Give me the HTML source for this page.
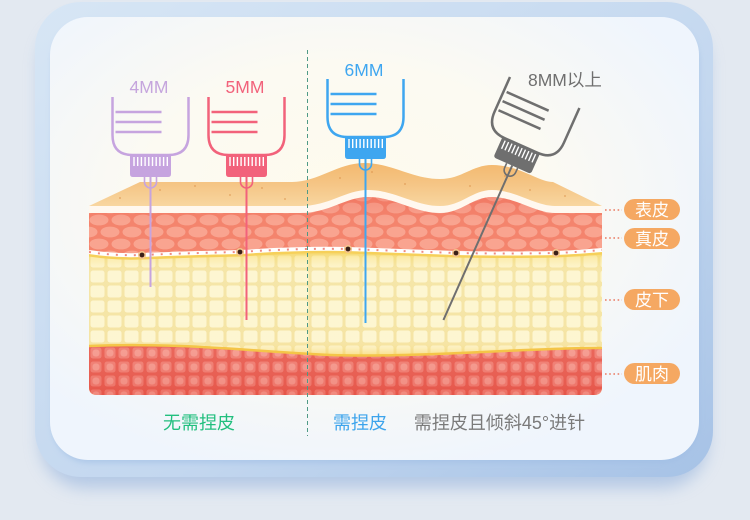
<!DOCTYPE html>
<html><head><meta charset="utf-8">
<style>
html,body{margin:0;padding:0;background:#e3e9f1;width:750px;height:520px;overflow:hidden;}
svg{display:block}
text{font-family:"Liberation Sans","Noto Sans CJK SC",sans-serif;}
</style></head><body>
<svg width="750" height="520" viewBox="0 0 750 520" xmlns="http://www.w3.org/2000/svg">
<defs>
 <linearGradient id="frame" x1="0" y1="0" x2="1" y2="1">
  <stop offset="0" stop-color="#d7e6f5"/>
  <stop offset="0.6" stop-color="#c3d7ef"/>
  <stop offset="1" stop-color="#a6c2e6"/>
 </linearGradient>
 <radialGradient id="card" cx="0.45" cy="0.42" r="0.62">
  <stop offset="0" stop-color="#fefbed"/>
  <stop offset="0.5" stop-color="#fcfaf2"/>
  <stop offset="1" stop-color="#eff5fd"/>
 </radialGradient>
 <filter id="blur8" x="-10%" y="-10%" width="120%" height="130%"><feGaussianBlur stdDeviation="8"/></filter>
 <filter id="blur3" x="-10%" y="-10%" width="120%" height="130%"><feGaussianBlur stdDeviation="3"/></filter>
 <linearGradient id="epi" gradientUnits="userSpaceOnUse" x1="0" y1="162" x2="0" y2="206">
  <stop offset="0" stop-color="#f3b86e"/>
  <stop offset="0.5" stop-color="#f5c585"/>
  <stop offset="1" stop-color="#f8d6a0"/>
 </linearGradient>
 <pattern id="cells" width="22" height="24" patternUnits="userSpaceOnUse" x="0" y="214">
  <rect width="22" height="24" fill="#f4846d"/>
  <ellipse cx="11" cy="6" rx="9.5" ry="5.4" fill="#f9a490"/>
  <ellipse cx="0" cy="18" rx="9.5" ry="5.4" fill="#f9a490"/>
  <ellipse cx="22" cy="18" rx="9.5" ry="5.4" fill="#f9a490"/>
 </pattern>
 <pattern id="mesh" width="17" height="15" patternUnits="userSpaceOnUse" x="89" y="254">
  <rect width="17" height="15" fill="#f3e19b"/>
  <rect x="1.5" y="1.5" width="14" height="12" rx="2.5" fill="#fdf5cf"/>
 </pattern>
 <pattern id="musc" width="14" height="14" patternUnits="userSpaceOnUse" x="89" y="346">
  <rect width="14" height="14" fill="#e8594c"/>
  <rect x="1.5" y="1.5" width="11" height="11" rx="2.5" fill="#f07a6e"/>
  <rect x="3.5" y="3.5" width="7" height="7" rx="3" fill="#f5968a"/>
 </pattern>
 <linearGradient id="yshade" gradientUnits="userSpaceOnUse" x1="0" y1="250" x2="0" y2="356">
  <stop offset="0" stop-color="#f7d24f" stop-opacity="0.75"/>
  <stop offset="0.08" stop-color="#f9dc70" stop-opacity="0.35"/>
  <stop offset="0.2" stop-color="#fff8dc" stop-opacity="0.2"/>
  <stop offset="0.85" stop-color="#fff8dc" stop-opacity="0.15"/>
  <stop offset="1" stop-color="#f5cf55" stop-opacity="0.6"/>
 </linearGradient>
 <linearGradient id="dshade" gradientUnits="userSpaceOnUse" x1="0" y1="195" x2="0" y2="255">
  <stop offset="0" stop-color="#ea5f50" stop-opacity="0.3"/>
  <stop offset="0.45" stop-color="#ea5f50" stop-opacity="0"/>
  <stop offset="1" stop-color="#ea5f50" stop-opacity="0"/>
 </linearGradient>
 <linearGradient id="mshade" gradientUnits="userSpaceOnUse" x1="0" y1="345" x2="0" y2="395">
  <stop offset="0" stop-color="#ffffff" stop-opacity="0.08"/>
  <stop offset="1" stop-color="#d8443a" stop-opacity="0.15"/>
 </linearGradient>
 <clipPath id="skin">
  <path d="M89 150 H602 V387 Q602 395 594 395 H97 Q89 395 89 387 Z"/>
 </clipPath>
</defs>

<!-- frame shadow -->
<rect x="40" y="18" width="668" height="470" rx="46" fill="#8eaedb" opacity="0.55" filter="url(#blur8)"/>
<!-- outer frame -->
<rect x="35" y="2" width="678" height="475" rx="46" fill="url(#frame)"/>
<!-- inner card shadow -->
<rect x="52" y="22" width="647" height="441" rx="38" fill="#9fbde4" opacity="0.6" filter="url(#blur3)"/>
<!-- inner card -->
<rect x="50" y="17" width="649" height="443" rx="38" fill="url(#card)"/>

<!-- skin -->
<g clip-path="url(#skin)">
 <!-- epidermis -->
 <path d="M89 206 L140 182 L292 182 C318 182 338 163 364 163 C392 163 412 179 440 179 C462 179 472 165 492 165 C520 165 538 182 553 182 L602 206 L602 395 L89 395 Z" fill="url(#epi)"/>
 <!-- white band -->
 <path d="M89 206 L300 206 C330 206 345 190 368 190 C395 190 415 206 440 206 C462 206 472 190 492 190 C515 190 535 206 555 206 L602 206 L602 395 L89 395 Z" fill="#fff8ef"/>
 <!-- dermis -->
 <path d="M89 213 L300 213 C330 213 345 197 368 197 C395 197 415 213 440 213 C462 213 472 197 492 197 C515 197 535 213 555 213 L602 213 L602 395 L89 395 Z" fill="url(#cells)"/>
 <path d="M89 213 L300 213 C330 213 345 197 368 197 C395 197 415 213 440 213 C462 213 472 197 492 197 C515 197 535 213 555 213 L602 213 L602 395 L89 395 Z" fill="url(#dshade)"/>
 <!-- subcutaneous -->
 <path d="M89 252 Q115 256 142 255 Q190 253 240 252 Q300 248 348 249 Q400 251 456 253 Q510 254 556 253 Q580 252 602 250 L602 395 L89 395 Z" fill="url(#mesh)"/>
 <path d="M89 252 Q115 256 142 255 Q190 253 240 252 Q300 248 348 249 Q400 251 456 253 Q510 254 556 253 Q580 252 602 250 L602 395 L89 395 Z" fill="url(#yshade)"/>
 <!-- muscle -->
 <path d="M89 346 C180 342 260 352 330 355 C420 358 540 347 602 348 L602 395 L89 395 Z" fill="url(#musc)"/>
 <path d="M89 346 C180 342 260 352 330 355 C420 358 540 347 602 348 L602 395 L89 395 Z" fill="url(#mshade)"/>
 <path d="M89 346 C180 342 260 352 330 355 C420 358 540 347 602 348" fill="none" stroke="#f4c548" stroke-width="2.5"/>
 <!-- dashed boundary -->
 <path d="M89 252 Q115 256 142 255 Q190 253 240 252 Q300 248 348 249 Q400 251 456 253 Q510 254 556 253 Q580 252 602 250" fill="none" stroke="#f6d05a" stroke-width="3" transform="translate(0,3)"/>
 <path d="M89 252 Q115 256 142 255 Q190 253 240 252 Q300 248 348 249 Q400 251 456 253 Q510 254 556 253 Q580 252 602 250" fill="none" stroke="#ffffff" stroke-width="4"/>
 <path d="M89 252 Q115 256 142 255 Q190 253 240 252 Q300 248 348 249 Q400 251 456 253 Q510 254 556 253 Q580 252 602 250" fill="none" stroke="#ef8a80" stroke-width="2" stroke-dasharray="2 7"/>
 <!-- epidermis specks -->
 <g fill="#d98f48" opacity="0.7">
  <circle cx="160" cy="190" r="0.9"/><circle cx="195" cy="186" r="0.9"/><circle cx="230" cy="195" r="0.9"/>
  <circle cx="262" cy="188" r="0.9"/><circle cx="120" cy="198" r="0.9"/><circle cx="285" cy="199" r="0.9"/>
  <circle cx="340" cy="178" r="0.9"/><circle cx="372" cy="172" r="0.9"/><circle cx="405" cy="184" r="0.9"/>
  <circle cx="470" cy="186" r="0.9"/><circle cx="505" cy="176" r="0.9"/><circle cx="530" cy="190" r="0.9"/>
  <circle cx="565" cy="196" r="0.9"/>
 </g>
</g>
<!-- follicle dots -->
<g>
 <circle cx="142" cy="255" r="4" fill="#f3c28c"/><circle cx="142" cy="255" r="2.4" fill="#3a2018"/>
 <circle cx="240" cy="252" r="4" fill="#f3c28c"/><circle cx="240" cy="252" r="2.4" fill="#3a2018"/>
 <circle cx="348" cy="249" r="4" fill="#f3c28c"/><circle cx="348" cy="249" r="2.4" fill="#3a2018"/>
 <circle cx="456" cy="253" r="4" fill="#f3c28c"/><circle cx="456" cy="253" r="2.4" fill="#3a2018"/>
 <circle cx="556" cy="253" r="4" fill="#f3c28c"/><circle cx="556" cy="253" r="2.4" fill="#3a2018"/>
</g>

<!-- divider -->
<line x1="307.5" y1="50" x2="307.5" y2="436" stroke="#4f9a86" stroke-width="1" stroke-dasharray="4 3"/>

<!-- needles -->
<g transform="translate(150.5,97)" stroke="#c6a4df" fill="none">
 <path d="M-38 0 V38 Q-38 58 -18 58 H18 Q38 58 38 38 V0" stroke-width="2.5"/>
 <path d="M-35 15 H11 M-35 25 H11 M-35 35 H11" stroke-width="2.5"/>
 <path d="M-20.5 58 H20.5 V77 Q20.5 80 17.5 80 H-17.5 Q-20.5 80 -20.5 77 Z" fill="#c6a4df" stroke="none"/>
 <path d="M-16.5 60 V69 M-12.8 60 V69 M-9.1 60 V69 M-5.4 60 V69 M-1.7 60 V69 M2 60 V69 M5.7 60 V69 M9.4 60 V69 M13.1 60 V69 M16.8 60 V69" stroke="#ffffff" stroke-width="1.4"/>
 <path d="M-6 80 V85 A6 6 0 0 0 6 85 V80" stroke-width="1.6"/>
 <path d="M0 80 V190" stroke-width="2"/>
</g>
<g transform="translate(246.5,97)" stroke="#f2627b" fill="none">
 <path d="M-38 0 V38 Q-38 58 -18 58 H18 Q38 58 38 38 V0" stroke-width="2.5"/>
 <path d="M-35 15 H11 M-35 25 H11 M-35 35 H11" stroke-width="2.5"/>
 <path d="M-20.5 58 H20.5 V77 Q20.5 80 17.5 80 H-17.5 Q-20.5 80 -20.5 77 Z" fill="#f2627b" stroke="none"/>
 <path d="M-16.5 60 V69 M-12.8 60 V69 M-9.1 60 V69 M-5.4 60 V69 M-1.7 60 V69 M2 60 V69 M5.7 60 V69 M9.4 60 V69 M13.1 60 V69 M16.8 60 V69" stroke="#ffffff" stroke-width="1.4"/>
 <path d="M-6 80 V85 A6 6 0 0 0 6 85 V80" stroke-width="1.6"/>
 <path d="M0 80 V223" stroke-width="2"/>
</g>
<g transform="translate(365.5,79)" stroke="#3ea6f0" fill="none">
 <path d="M-38 0 V38 Q-38 58 -18 58 H18 Q38 58 38 38 V0" stroke-width="2.5"/>
 <path d="M-35 15 H11 M-35 25 H11 M-35 35 H11" stroke-width="2.5"/>
 <path d="M-20.5 58 H20.5 V77 Q20.5 80 17.5 80 H-17.5 Q-20.5 80 -20.5 77 Z" fill="#3ea6f0" stroke="none"/>
 <path d="M-16.5 60 V69 M-12.8 60 V69 M-9.1 60 V69 M-5.4 60 V69 M-1.7 60 V69 M2 60 V69 M5.7 60 V69 M9.4 60 V69 M13.1 60 V69 M16.8 60 V69" stroke="#ffffff" stroke-width="1.4"/>
 <path d="M-6 80 V85 A6 6 0 0 0 6 85 V80" stroke-width="1.6"/>
 <path d="M0 80 V244" stroke-width="2"/>
</g>
<g transform="translate(544.7,92.5) rotate(24)" stroke="#6f6f6f" fill="none">
 <path d="M-38 0 V38 Q-38 58 -18 58 H18 Q38 58 38 38 V0" stroke-width="2.5"/>
 <path d="M-35 15 H11 M-35 25 H11 M-35 35 H11" stroke-width="2.5"/>
 <path d="M-20.5 58 H20.5 V77 Q20.5 80 17.5 80 H-17.5 Q-20.5 80 -20.5 77 Z" fill="#6f6f6f" stroke="none"/>
 <path d="M-16.5 60 V69 M-12.8 60 V69 M-9.1 60 V69 M-5.4 60 V69 M-1.7 60 V69 M2 60 V69 M5.7 60 V69 M9.4 60 V69 M13.1 60 V69 M16.8 60 V69" stroke="#ffffff" stroke-width="1.4"/>
 <path d="M-6 80 V85 A6 6 0 0 0 6 85 V80" stroke-width="1.6"/>
 <path d="M0 80 V249" stroke-width="2"/>
</g>

<!-- needle labels -->
<text x="149" y="93" font-size="17.5" fill="#c5a5dd" text-anchor="middle">4MM</text>
<text x="245" y="93" font-size="17.5" fill="#f2627b" text-anchor="middle">5MM</text>
<text x="364" y="76" font-size="17.5" fill="#3ea6f0" text-anchor="middle">6MM</text>
<text x="528" y="86" font-size="17.5" fill="#6f6f6f">8MM以上</text>

<!-- layer labels -->
<g stroke="#ea7a62" stroke-width="1.6" stroke-dasharray="1.6 2.6">
 <line x1="605" y1="210" x2="622" y2="210"/>
 <line x1="605" y1="238" x2="622" y2="238"/>
 <line x1="605" y1="300" x2="622" y2="300"/>
 <line x1="605" y1="374" x2="622" y2="374"/>
</g>
<g fill="#f5a862">
 <rect x="624" y="199" width="56" height="21" rx="10.5"/>
 <rect x="624" y="228" width="56" height="21" rx="10.5"/>
 <rect x="624" y="289" width="56" height="21" rx="10.5"/>
 <rect x="624" y="363" width="56" height="21" rx="10.5"/>
</g>
<g fill="#ffffff" font-size="17" text-anchor="middle">
 <text x="652" y="216">表皮</text>
 <text x="652" y="245">真皮</text>
 <text x="652" y="306">皮下</text>
 <text x="652" y="380">肌肉</text>
</g>

<!-- bottom captions -->
<text x="199" y="429" font-size="18" fill="#22bf7e" text-anchor="middle">无需捏皮</text>
<text x="360" y="429" font-size="18" fill="#3da4ec" text-anchor="middle">需捏皮</text>
<text x="499.5" y="429" font-size="18" fill="#7a7a7a" text-anchor="middle">需捏皮且倾斜45°进针</text>
</svg>
</body></html>
